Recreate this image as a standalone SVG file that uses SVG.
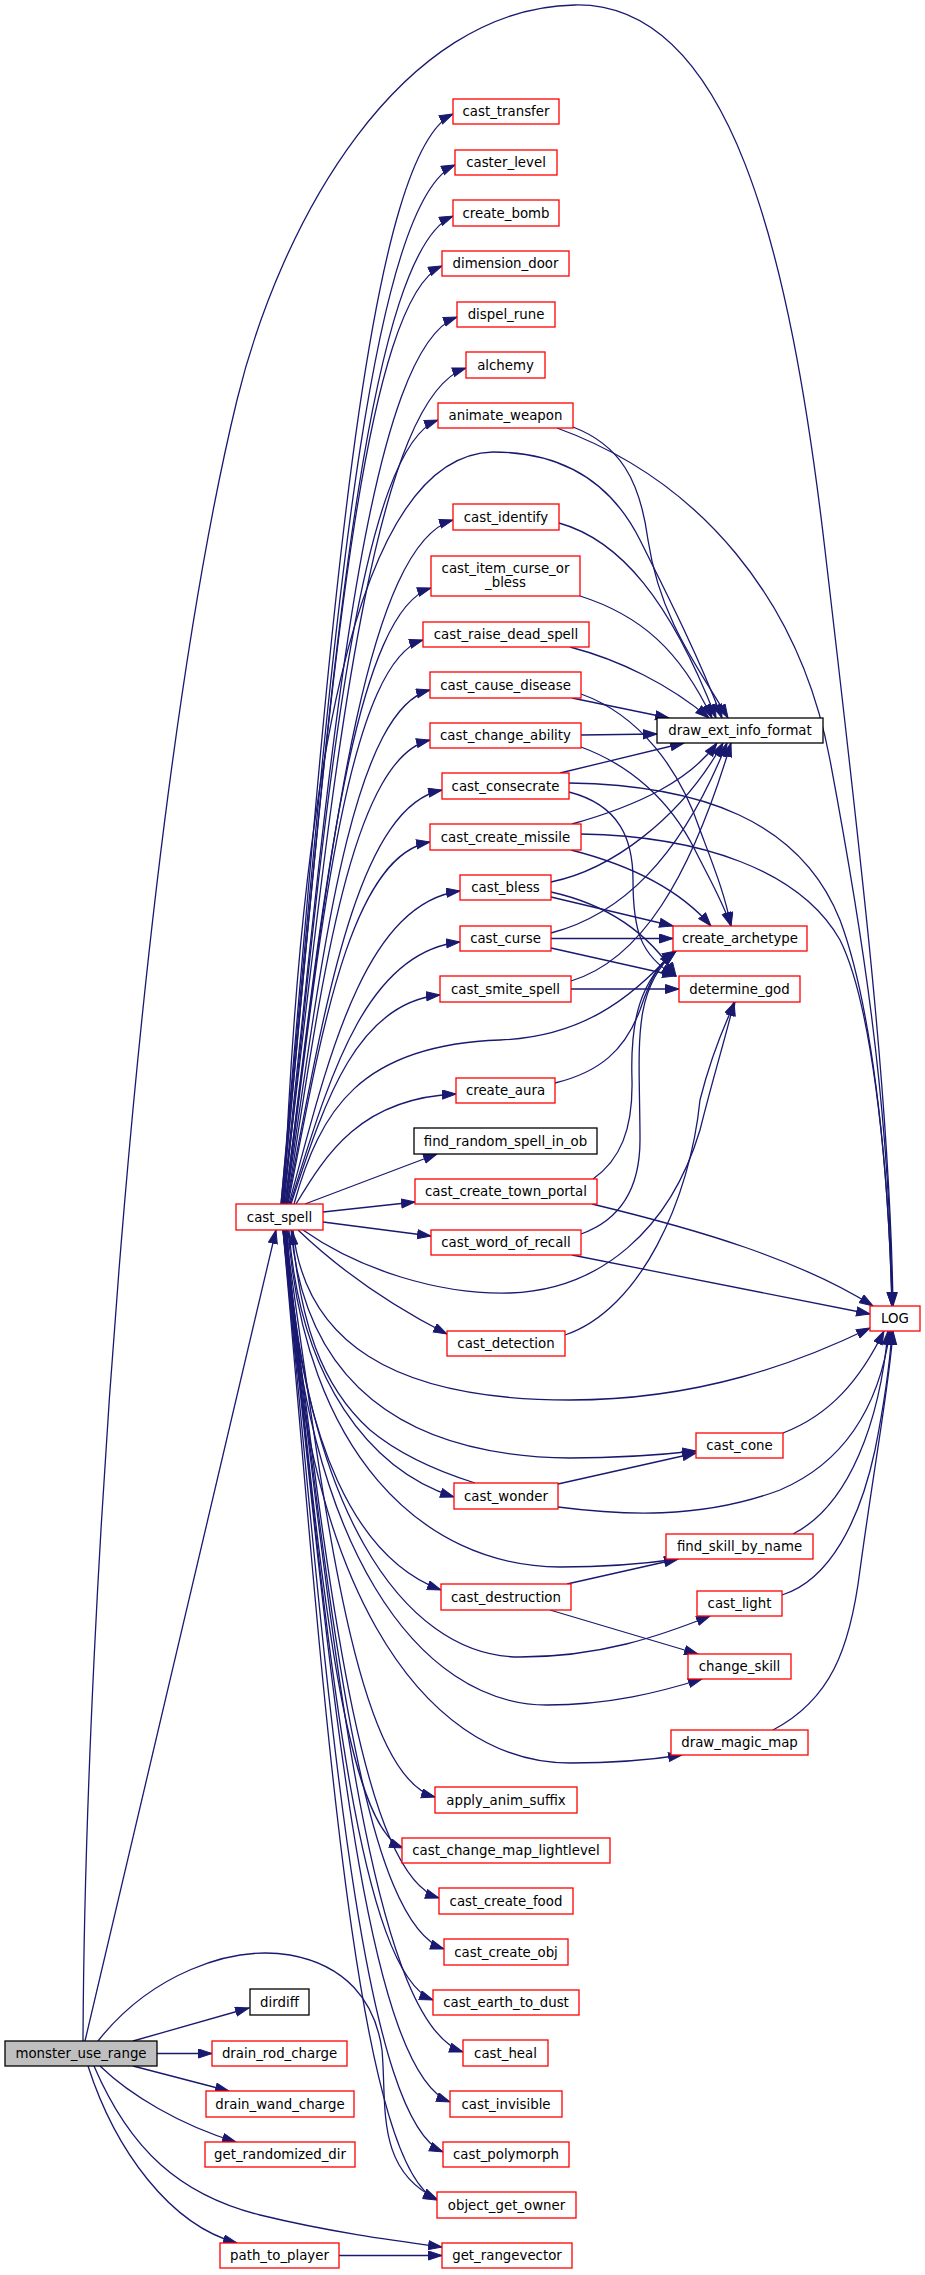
<svg xmlns="http://www.w3.org/2000/svg" width="925" height="2275" viewBox="0 0 925 2275">
<style>
.n rect{fill:#fff;stroke:#ff0000;stroke-width:1.3}
.k rect{fill:#fff;stroke:#000;stroke-width:1.3}
.r rect{fill:#bfbfbf;stroke:#000;stroke-width:1.3}
text{font-family:"DejaVu Sans","Liberation Sans",sans-serif;font-size:13.33px;text-anchor:middle;fill:#000}
.e path{fill:none;stroke:#191970;stroke-width:1.3;marker-end:url(#a)}
</style>
<defs>
<marker id="a" markerUnits="userSpaceOnUse" markerWidth="15" markerHeight="11" refX="14" refY="5" orient="auto">
<path d="M0.5,0.5 L14,5 L0.5,9.5 Z" fill="#191970" stroke="#191970" stroke-width="1"/>
</marker>
</defs>
<rect width="925" height="2275" fill="#fff"/>
<g id="edges" class="e">
<path d="M85,2041 L276,1230"/>
<path d="M83,2041 C85,1600 140,800 237,400 C281,220 400,8 575,5 C730,2 790,250 825,550 C860,850 890,1100 893,1306"/>
<path d="M133,2041 L249,2008"/>
<path d="M157,2053.5 L212,2053.5"/>
<path d="M133,2066 L229,2091"/>
<path d="M100,2066 C130,2095 180,2125 236,2142"/>
<path d="M88,2066 C115,2150 170,2225 237,2243"/>
<path d="M94,2066 C130,2150 180,2195 260,2215 C330,2232 390,2240 442,2247"/>
<path d="M98,2041 C150,1975 230,1945 290,1955 C345,1965 375,2000 382,2050 C387,2105 375,2170 437,2199"/>
<path d="M339,2255.5 L442,2255.5"/>
<path d="M281,1204 C325,714 359,158 453,114"/>
<path d="M281,1204 C326,736 360,207 455,165"/>
<path d="M282,1204 C325,759 359,256 453,216"/>
<path d="M282,1204 C323,782 355,304 442,266"/>
<path d="M283,1204 C326,805 361,352 457,317"/>
<path d="M283,1204 C329,828 365,401 466,368"/>
<path d="M284,1204 C322,851 353,451 438,420"/>
<path d="M284,1204 C300,800 350,455 493,452 C560,452 610,480 640,540 C670,600 700,660 722,718"/>
<path d="M285,1204 C325,896 359,547 453,520"/>
<path d="M285,1204 C320,927 350,613 431,588"/>
<path d="M286,1204 C318,950 346,663 423,640"/>
<path d="M286,1204 C320,973 349,711 430,690"/>
<path d="M287,1204 C320,995 349,759 430,740"/>
<path d="M287,1204 C323,1018 355,807 442,790"/>
<path d="M288,1204 C320,1041 349,856 430,842"/>
<path d="M289,1204 C327,1063 363,904 460,891"/>
<path d="M290,1204 C327,1086 363,952 460,942"/>
<path d="M291,1204 C322,1110 354,1003 440,995"/>
<path d="M294,1204 C320,1110 360,1045 500,1040 C580,1037 630,1000 673,952"/>
<path d="M296,1204 C326,1154 361,1098 456,1094"/>
<path d="M305,1204 L437,1154"/>
<path d="M323,1212 L415,1202"/>
<path d="M323,1222 L431,1236"/>
<path d="M303,1230 C360,1270 440,1295 510,1293 C600,1290 670,1230 700,1130 C715,1070 725,1040 734,1002"/>
<path d="M298,1230 C340,1270 390,1305 447,1334"/>
<path d="M293,1230 C305,1340 390,1400 570,1400 C700,1400 800,1362 870,1328"/>
<path d="M291,1230 C305,1380 400,1456 570,1458 C620,1458 660,1455 696,1451"/>
<path d="M475,1483 C440,1472 400,1455 370,1430 C320,1385 300,1320 292,1231"/>
<path d="M289,1230 C300,1380 370,1470 454,1497"/>
<path d="M288,1230 C305,1450 420,1566 560,1567 C610,1567 650,1563 678,1559"/>
<path d="M287,1230 C298,1450 360,1560 441,1590"/>
<path d="M287,1230 C302,1500 400,1657 520,1657 C600,1657 660,1636 710,1616"/>
<path d="M286,1230 C302,1550 420,1705 547,1705 C610,1705 660,1692 702,1679"/>
<path d="M286,1230 C298,1580 420,1763 570,1763 C610,1763 650,1760 682,1755"/>
<path d="M285,1230 C322,1485 352,1774 435,1797"/>
<path d="M285,1230 C314,1508 338,1823 403,1848"/>
<path d="M284,1230 C323,1531 354,1871 439,1898"/>
<path d="M284,1230 C324,1554 356,1920 444,1949"/>
<path d="M284,1230 C321,1577 351,1969 433,2000"/>
<path d="M283,1230 C329,1600 365,2019 463,2052"/>
<path d="M283,1230 C326,1622 359,2067 450,2102"/>
<path d="M283,1230 C324,1645 356,2115 443,2152"/>
<path d="M283,1230 C322,1667 353,2163 437,2200"/>
<path d="M573,427 C620,445 640,480 648,540 C660,620 700,670 728,718"/>
<path d="M557,428 C700,480 800,600 830,760 C860,920 890,1100 892,1306"/>
<path d="M559,523 C620,540 670,600 716,718"/>
<path d="M580,596 C640,615 680,650 712,718"/>
<path d="M570,647 C620,660 670,685 709,718"/>
<path d="M572,698 L669,718"/>
<path d="M581,694 C640,715 680,770 700,830 C715,870 725,895 731,926"/>
<path d="M581,735 L657,734"/>
<path d="M581,747 C630,765 670,800 695,850 C710,880 722,900 731,926"/>
<path d="M560,773 L684,743"/>
<path d="M569,783 C700,785 800,820 840,920 C870,1000 888,1150 892,1306"/>
<path d="M569,792 C620,805 633,840 633,880 C633,930 640,955 675,976"/>
<path d="M572,824 C640,805 690,780 717,743"/>
<path d="M571,850 C630,865 680,890 711,926"/>
<path d="M581,834 C700,836 800,870 840,940 C870,1000 888,1150 892,1306"/>
<path d="M551,882 C610,870 680,820 723,743"/>
<path d="M551,897 L673,926"/>
<path d="M551,892 C610,905 650,935 676,976"/>
<path d="M551,933 C620,915 680,860 727,743"/>
<path d="M551,938.5 L673,938.5"/>
<path d="M551,948 L676,976"/>
<path d="M571,981 C640,960 690,880 731,743"/>
<path d="M571,989 L679,989"/>
<path d="M555,1083 C600,1072 625,1050 640,1010 C650,980 660,960 676,951"/>
<path d="M593,1179 C620,1160 633,1130 632,1080 C630,1020 640,980 676,951"/>
<path d="M581,1234 C620,1220 640,1190 640,1140 C640,1050 630,990 676,951"/>
<path d="M565,1335 C640,1310 690,1200 700,1100 C710,1060 722,1030 735,1002"/>
<path d="M592,1204 C700,1230 800,1260 873,1306"/>
<path d="M572,1255 L870,1314"/>
<path d="M558,1484 L696,1453"/>
<path d="M558,1507 C620,1515 700,1520 780,1490 C850,1460 880,1400 890,1331"/>
<path d="M783,1433 C830,1415 860,1380 884,1331"/>
<path d="M793,1534 C850,1505 880,1420 888,1331"/>
<path d="M782,1595 C830,1580 860,1520 875,1450 C885,1400 890,1360 892,1331"/>
<path d="M773,1730 C830,1700 850,1650 860,1570 C875,1460 890,1380 893,1331"/>
<path d="M567,1584 L678,1559"/>
<path d="M550,1610 L698,1654"/>
</g>
<g id="monster_use_range" class="r"><rect x="5" y="2041" width="152" height="25"/><text x="81" y="2058">monster_use_range</text></g>
<g id="cast_spell" class="n"><rect x="236" y="1204" width="87" height="26"/><text x="279.5" y="1221.5">cast_spell</text></g>
<g id="dirdiff" class="k"><rect x="250" y="1989" width="59" height="26"/><text x="279.5" y="2006.5">dirdiff</text></g>
<g id="drain_rod_charge" class="n"><rect x="212" y="2041" width="135" height="25"/><text x="279.5" y="2058">drain_rod_charge</text></g>
<g id="drain_wand_charge" class="n"><rect x="206" y="2091" width="148" height="26"/><text x="280" y="2108.5">drain_wand_charge</text></g>
<g id="get_randomized_dir" class="n"><rect x="205" y="2142" width="150" height="25"/><text x="280" y="2159">get_randomized_dir</text></g>
<g id="path_to_player" class="n"><rect x="220" y="2243" width="119" height="25"/><text x="279.5" y="2260">path_to_player</text></g>
<g id="cast_transfer" class="n"><rect x="453" y="99" width="106" height="25"/><text x="506" y="116">cast_transfer</text></g>
<g id="caster_level" class="n"><rect x="455" y="150" width="102" height="25"/><text x="506" y="167">caster_level</text></g>
<g id="create_bomb" class="n"><rect x="453" y="200" width="106" height="26"/><text x="506" y="217.5">create_bomb</text></g>
<g id="dimension_door" class="n"><rect x="442" y="251" width="127" height="25"/><text x="505.5" y="268">dimension_door</text></g>
<g id="dispel_rune" class="n"><rect x="457" y="302" width="98" height="25"/><text x="506" y="319">dispel_rune</text></g>
<g id="alchemy" class="n"><rect x="466" y="352" width="79" height="26"/><text x="505.5" y="369.5">alchemy</text></g>
<g id="animate_weapon" class="n"><rect x="438" y="403" width="135" height="25"/><text x="505.5" y="420">animate_weapon</text></g>
<g id="cast_identify" class="n"><rect x="453" y="504" width="106" height="26"/><text x="506" y="521.5">cast_identify</text></g>
<g id="cast_item_curse_or_bless" class="n"><rect x="431" y="556" width="149" height="40"/><text x="505.5" y="572.5">cast_item_curse_or</text><text x="505.5" y="587">_bless</text></g>
<g id="cast_raise_dead_spell" class="n"><rect x="423" y="622" width="166" height="25"/><text x="506" y="639">cast_raise_dead_spell</text></g>
<g id="cast_cause_disease" class="n"><rect x="430" y="672" width="151" height="26"/><text x="505.5" y="689.5">cast_cause_disease</text></g>
<g id="cast_change_ability" class="n"><rect x="430" y="723" width="151" height="25"/><text x="505.5" y="740">cast_change_ability</text></g>
<g id="cast_consecrate" class="n"><rect x="442" y="773" width="127" height="26"/><text x="505.5" y="790.5">cast_consecrate</text></g>
<g id="cast_create_missile" class="n"><rect x="430" y="824" width="151" height="26"/><text x="505.5" y="841.5">cast_create_missile</text></g>
<g id="cast_bless" class="n"><rect x="460" y="875" width="91" height="25"/><text x="505.5" y="892">cast_bless</text></g>
<g id="cast_curse" class="n"><rect x="460" y="926" width="91" height="25"/><text x="505.5" y="943">cast_curse</text></g>
<g id="cast_smite_spell" class="n"><rect x="440" y="976" width="131" height="26"/><text x="505.5" y="993.5">cast_smite_spell</text></g>
<g id="create_aura" class="n"><rect x="456" y="1078" width="99" height="25"/><text x="505.5" y="1095">create_aura</text></g>
<g id="find_random_spell_in_ob" class="k"><rect x="414" y="1128" width="183" height="26"/><text x="505.5" y="1145.5">find_random_spell_in_ob</text></g>
<g id="cast_create_town_portal" class="n"><rect x="415" y="1179" width="182" height="25"/><text x="506" y="1196">cast_create_town_portal</text></g>
<g id="cast_word_of_recall" class="n"><rect x="431" y="1230" width="150" height="25"/><text x="506" y="1247">cast_word_of_recall</text></g>
<g id="cast_detection" class="n"><rect x="447" y="1331" width="118" height="25"/><text x="506" y="1348">cast_detection</text></g>
<g id="cast_wonder" class="n"><rect x="454" y="1483" width="104" height="26"/><text x="506" y="1500.5">cast_wonder</text></g>
<g id="cast_destruction" class="n"><rect x="441" y="1584" width="130" height="26"/><text x="506" y="1601.5">cast_destruction</text></g>
<g id="apply_anim_suffix" class="n"><rect x="435" y="1787" width="142" height="26"/><text x="506" y="1804.5">apply_anim_suffix</text></g>
<g id="cast_change_map_lightlevel" class="n"><rect x="402" y="1838" width="208" height="25"/><text x="506" y="1855">cast_change_map_lightlevel</text></g>
<g id="cast_create_food" class="n"><rect x="439" y="1888" width="134" height="26"/><text x="506" y="1905.5">cast_create_food</text></g>
<g id="cast_create_obj" class="n"><rect x="444" y="1939" width="124" height="26"/><text x="506" y="1956.5">cast_create_obj</text></g>
<g id="cast_earth_to_dust" class="n"><rect x="433" y="1990" width="146" height="25"/><text x="506" y="2007">cast_earth_to_dust</text></g>
<g id="cast_heal" class="n"><rect x="463" y="2040" width="85" height="26"/><text x="505.5" y="2057.5">cast_heal</text></g>
<g id="cast_invisible" class="n"><rect x="450" y="2091" width="112" height="26"/><text x="506" y="2108.5">cast_invisible</text></g>
<g id="cast_polymorph" class="n"><rect x="443" y="2142" width="126" height="25"/><text x="506" y="2159">cast_polymorph</text></g>
<g id="object_get_owner" class="n"><rect x="437" y="2192" width="139" height="26"/><text x="506.5" y="2209.5">object_get_owner</text></g>
<g id="get_rangevector" class="n"><rect x="442" y="2243" width="130" height="25"/><text x="507" y="2260">get_rangevector</text></g>
<g id="draw_ext_info_format" class="k"><rect x="657" y="718" width="166" height="25"/><text x="740" y="735">draw_ext_info_format</text></g>
<g id="create_archetype" class="n"><rect x="673" y="926" width="134" height="25"/><text x="740" y="943">create_archetype</text></g>
<g id="determine_god" class="n"><rect x="679" y="976" width="121" height="26"/><text x="739.5" y="993.5">determine_god</text></g>
<g id="cast_cone" class="n"><rect x="696" y="1433" width="87" height="25"/><text x="739.5" y="1450">cast_cone</text></g>
<g id="find_skill_by_name" class="n"><rect x="666" y="1534" width="147" height="25"/><text x="739.5" y="1551">find_skill_by_name</text></g>
<g id="cast_light" class="n"><rect x="697" y="1591" width="85" height="25"/><text x="739.5" y="1608">cast_light</text></g>
<g id="change_skill" class="n"><rect x="688" y="1654" width="103" height="25"/><text x="739.5" y="1671">change_skill</text></g>
<g id="draw_magic_map" class="n"><rect x="671" y="1730" width="137" height="25"/><text x="739.5" y="1747">draw_magic_map</text></g>
<g id="LOG" class="n"><rect x="870" y="1306" width="50" height="25"/><text x="895" y="1323">LOG</text></g>
</svg>
